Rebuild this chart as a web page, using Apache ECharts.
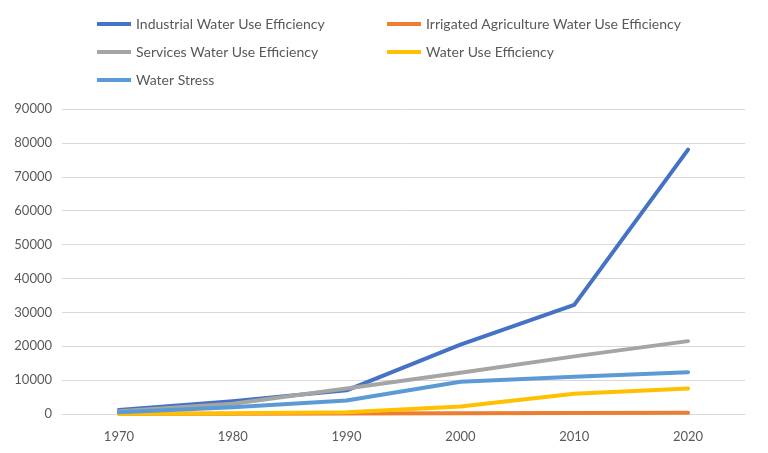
<!DOCTYPE html>
<html><head><meta charset="utf-8">
<script src="https://cdn.jsdelivr.net/npm/echarts@6/dist/echarts.min.js"></script>
<style>html,body{margin:0;padding:0;background:#fff}#c{width:768px;height:453px}</style>
</head><body><div id="c"></div>
<script>
const years = ['1970','1980','1990','2000','2010','2020'];
const industrial = [1200, 3800, 7000, 20500, 32200, 78000];
const irrigated = [50, 100, 150, 200, 300, 350];
const services = [800, 3000, 7500, 12200, 17000, 21500];
const wue = [100, 200, 500, 2200, 6000, 7500];
const stress = [500, 2000, 4000, 9500, 11000, 12300];
const names = ['Industrial Water Use Efficiency','Irrigated Agriculture Water Use Efficiency','Services Water Use Efficiency','Water Use Efficiency','Water Stress'];
const colors = ['#4472C4','#ED7D31','#A5A5A5','#FFC000','#5B9BD5'];
const datas = [industrial, irrigated, services, wue, stress];
const font = 'Lato, "Open Sans", sans-serif';
const legendBase = {
  orient:'vertical', itemWidth:34, itemHeight:4, itemGap:14, padding:0,
  icon:'rect',
  textStyle:{color:'#595959', fontSize:14, fontFamily:font, lineHeight:14}
};
const chart = echarts.init(document.getElementById('c'));
chart.setOption({
  animation:false,
  color: colors,
  legend:[
    Object.assign({left:97, top:17, data:[names[0],names[2],names[4]]}, legendBase),
    Object.assign({left:387, top:17, data:[names[1],names[3]]}, legendBase)
  ],
  grid:{left:62, right:23, top:109, bottom:39, containLabel:false},
  xAxis:{type:'category', data:years, boundaryGap:true,
    axisLine:{lineStyle:{color:'#D9D9D9', width:1}}, axisTick:{show:false},
    axisLabel:{color:'#595959', fontSize:13, fontFamily:font, margin:16}},
  yAxis:{type:'value', min:0, max:90000, interval:10000,
    axisLine:{show:false}, axisTick:{show:false},
    splitLine:{lineStyle:{color:'#D9D9D9', width:1}},
    axisLabel:{color:'#595959', fontSize:13, fontFamily:font, margin:10, formatter:v=>String(v)}},
  series: names.map((n,i)=>({name:n, type:'line', data:datas[i], symbol:'none',
    lineStyle:{width:4, color:colors[i], cap:'round', join:'round'}, itemStyle:{color:colors[i]}}))
});
</script></body></html>
